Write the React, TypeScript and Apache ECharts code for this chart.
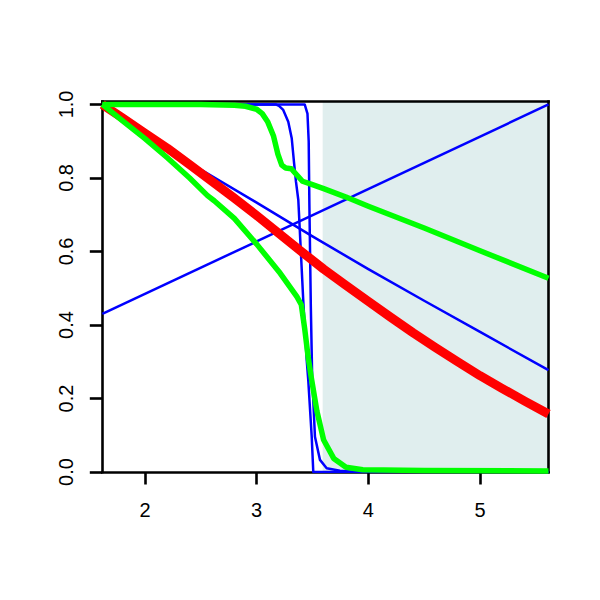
import React, { useEffect, useRef } from "react";
import * as echarts from "echarts";

// Axis ranges and tick values
const xRange = [1.618, 5.613];
const yRange = [0, 1.008];
const xTicks = [2, 3, 4, 5];
const yTicks = [0, 0.2, 0.4, 0.6, 0.8, 1.0];

// Shaded band (x start / end)
const shadeX = [3.591, 5.613];

// Blue straight rising line
const blueRiseX = [1.618, 5.613];
const blueRiseY = [0.43, 1.0];

// Blue gently falling line
const blueFallX = [1.618, 2.0, 2.5, 3.0, 3.5, 4.0, 4.5, 5.0, 5.613];
const blueFallY = [1.0, 0.924, 0.823, 0.733, 0.641, 0.552, 0.466, 0.381, 0.277];

// Blue steep drop (rounded shoulder, sharp foot)
const blueStepAX = [1.618, 3.17, 3.2, 3.238, 3.283, 3.314, 3.334, 3.352, 3.373, 3.417, 3.448, 3.462, 3.493, 3.507, 5.613];
const blueStepAY = [1.0, 1.0, 0.996, 0.985, 0.953, 0.908, 0.844, 0.79, 0.74, 0.468, 0.305, 0.25, 0.096, 0.0, 0.0];

// Blue steepest drop (sharp shoulder, rounded foot)
const blueStepBX = [1.618, 3.43, 3.455, 3.466, 3.472, 3.485, 3.497, 3.522, 3.567, 3.627, 3.746, 3.9, 5.613];
const blueStepBY = [1.0, 1.0, 0.975, 0.9, 0.73, 0.45, 0.26, 0.096, 0.033, 0.01, 0.0035, 0.0, 0.0];

// Red thick curve
const redX = [1.618, 1.8, 2.0, 2.2, 2.4, 2.6, 2.8, 3.0, 3.2, 3.4, 3.6, 3.8, 4.0, 4.2, 4.4, 4.6, 4.8, 5.0, 5.2, 5.4, 5.613];
const redY = [1.0, 0.963, 0.922, 0.881, 0.836, 0.791, 0.745, 0.698, 0.649, 0.6, 0.552, 0.508, 0.464, 0.421, 0.379, 0.339, 0.3, 0.262, 0.227, 0.193, 0.158];

// Green upper curve
const greenUpX = [1.618, 2.5, 2.8, 2.9, 3.0, 3.05, 3.1, 3.15, 3.19, 3.225, 3.26, 3.31, 3.36, 3.41, 3.48, 3.6, 3.8, 4.0, 4.5, 5.0, 5.613];
const greenUpY = [1.0, 1.0, 0.998, 0.995, 0.987, 0.975, 0.952, 0.915, 0.865, 0.835, 0.827, 0.825, 0.808, 0.791, 0.784, 0.771, 0.748, 0.723, 0.664, 0.602, 0.527];

// Green lower curve
const greenLowX = [1.618, 1.8, 2.0, 2.2, 2.4, 2.56, 2.62, 2.8, 3.0, 3.2, 3.36, 3.4, 3.43, 3.46, 3.49, 3.54, 3.6, 3.69, 3.8, 3.95, 4.5, 5.613];
const greenLowY = [1.0, 0.955, 0.907, 0.855, 0.8, 0.752, 0.738, 0.69, 0.62, 0.545, 0.477, 0.455, 0.39, 0.315, 0.255, 0.165, 0.087, 0.037, 0.013, 0.006, 0.004, 0.003];

const BLUE = "#0000ff";
const RED = "#ff0000";
const GREEN = "#00ff00";
const SHADE = "#e0eeee";

const zip = (xs: number[], ys: number[]) => xs.map((x, i) => [x, ys[i]]);

const lineSeries = (name: string, xs: number[], ys: number[], color: string, width: number) => ({
  name,
  type: "line",
  data: zip(xs, ys),
  showSymbol: false,
  symbol: "none",
  z: 3,
  silent: true,
  clip: true,
  lineStyle: { color, width, cap: "butt", join: "round" },
});

const FONT = "'Liberation Sans', Arial, Helvetica, sans-serif";

export default function App() {
  const ref = useRef<HTMLDivElement>(null);
  useEffect(() => {
    if (!ref.current) return;
    const chart = echarts.init(ref.current, undefined, { renderer: "svg" });
    const axisLine = { show: true, onZero: false, lineStyle: { color: "#000", width: 2.6, cap: "square" } };
    chart.setOption({
      animation: false,
      backgroundColor: "#ffffff",
      grid: {
        left: 102.3,
        top: 101.5,
        width: 446.2,
        height: 370.5,
        containLabel: false,
        outerBoundsMode: "none",
      },
      xAxis: [
        {
          type: "value",
          position: "bottom",
          min: xRange[0],
          max: xRange[1],
          z: 2,
          axisLine,
          splitLine: { show: false },
          axisTick: {
            show: true,
            length: 12.5,
            customValues: xTicks,
            lineStyle: { color: "#000", width: 2.6 },
          },
          axisLabel: {
            show: true,
            customValues: xTicks,
            margin: 28,
            color: "#000",
            fontSize: 20,
            fontFamily: FONT,
            formatter: (v: number) => String(Math.round(v)),
          },
        },
        {
          type: "value",
          position: "top",
          min: xRange[0],
          max: xRange[1],
          z: 2,
          axisLine,
          splitLine: { show: false },
          axisTick: { show: false },
          axisLabel: { show: false },
        },
      ],
      yAxis: [
        {
          type: "value",
          position: "left",
          min: yRange[0],
          max: yRange[1],
          z: 2,
          axisLine,
          splitLine: { show: false },
          axisTick: {
            show: true,
            length: 12.5,
            customValues: yTicks,
            lineStyle: { color: "#000", width: 2.6 },
          },
          axisLabel: {
            show: true,
            customValues: yTicks,
            rotate: 90,
            margin: 26,
            color: "#000",
            fontSize: 20,
            fontFamily: FONT,
            formatter: (v: number) => v.toFixed(1),
          },
        },
        {
          type: "value",
          position: "right",
          min: yRange[0],
          max: yRange[1],
          z: 2,
          axisLine,
          splitLine: { show: false },
          axisTick: { show: false },
          axisLabel: { show: false },
        },
      ],
      series: [
        {
          name: "shade",
          type: "line",
          data: [[shadeX[0], 0.5]],
          showSymbol: false,
          symbol: "none",
          silent: true,
          z: 1,
          lineStyle: { opacity: 0, width: 0 },
          markArea: {
            silent: true,
            itemStyle: { color: SHADE, opacity: 1 },
            data: [[{ xAxis: shadeX[0] }, { xAxis: shadeX[1] }]],
          },
        },
        lineSeries("blueRise", blueRiseX, blueRiseY, BLUE, 2.5),
        lineSeries("blueFall", blueFallX, blueFallY, BLUE, 2.5),
        lineSeries("blueStepA", blueStepAX, blueStepAY, BLUE, 2.5),
        lineSeries("blueStepB", blueStepBX, blueStepBY, BLUE, 2.5),
        lineSeries("red", redX, redY, RED, 9),
        lineSeries("greenUp", greenUpX, greenUpY, GREEN, 5.5),
        lineSeries("greenLow", greenLowX, greenLowY, GREEN, 5.5),
      ],
    });
    return () => chart.dispose();
  }, []);
  return (
    <div
      ref={ref}
      style={{ position: "fixed", left: 0, top: 0, width: 600, height: 600, background: "#fff" }}
    />
  );
}
